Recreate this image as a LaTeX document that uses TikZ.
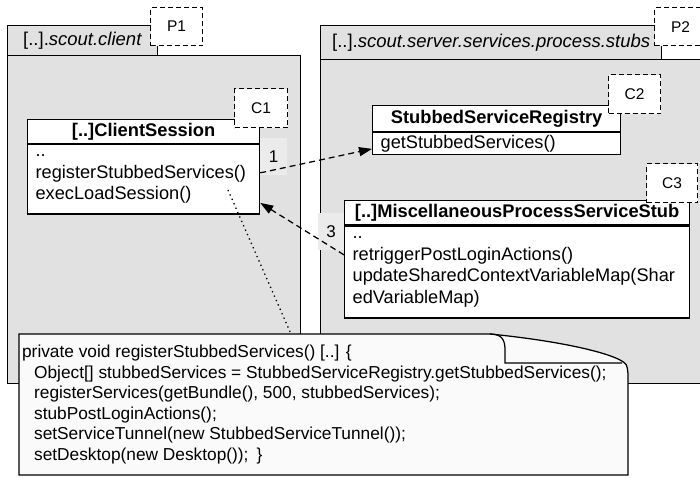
\documentclass[tikz,border=0pt]{standalone}
\usepackage{fontspec}
\setmainfont{Liberation Sans}
\usepackage{tikz}
\usetikzlibrary{positioning}
\usetikzlibrary{arrows.meta}
\usepackage{xcolor}
\definecolor{pkggray}{HTML}{E1E1E1}
\definecolor{lblgray}{HTML}{EBEBEB}
\definecolor{notegray}{HTML}{FAFAFA}

\begin{document}
\begin{tikzpicture}[x=1pt, y=-1pt, line width=1.25pt,
  pkg/.style = {draw, fill=pkggray, anchor=north west, inner sep=0pt, font=\fontsize{18.5}{22}\selectfont},
  tag/.style = {draw, dash pattern=on 5pt off 3pt, fill=white, minimum width=52pt, minimum height=38pt, anchor=north west, inner sep=0pt, font=\fontsize{15.5}{18}\selectfont},
  head/.style = {draw, fill=white, anchor=north west, inner sep=0pt, font=\fontsize{18.3}{21}\selectfont\bfseries},
  body/.style = {draw, fill=white, inner xsep=8pt, inner ysep=0pt, align=left, font=\fontsize{18.2}{21.5}\selectfont},
  lbl/.style = {fill=lblgray, minimum width=27pt, minimum height=37pt, inner sep=0pt, font=\fontsize{17}{20}\selectfont},
  code/.style = {inner xsep=2.5pt, align=left, font=\fontsize{17.3}{20.6}\selectfont},
  dep/.style = {dash pattern=on 6pt off 4pt, -{Triangle[length=13pt,width=9pt]}},
  call/.style = {line width=1.3pt, dash pattern=on 1.3pt off 3.5pt}]
\useasboundingbox (0,0) rectangle (700,478);
% packages
\node[pkg, minimum width=150pt, minimum height=30pt] (p1tab) at (7,25) {[..].\textit{scout.client}};
\node[pkg, minimum width=293pt, minimum height=328pt] (p1) at (7,55) {};
\node[pkg, minimum width=341pt, minimum height=34pt] (p2tab) at (320,25) {[..].\textit{scout.server.services.process.stubs}};
\node[pkg, minimum width=385pt, minimum height=324pt] (p2) at (320,59) {};
% classes
\node[head, minimum width=232pt, minimum height=24pt] (cs) at (27,119) {[..]ClientSession};
\node[body, text width=216pt, minimum height=69pt, below=0pt of cs] (csb) {..\\registerStubbedServices()\\execLoadSession()};
\node[head, minimum width=248pt, minimum height=26pt] (ssr) at (372,105) {StubbedServiceRegistry};
\node[body, text width=232pt, minimum height=22pt, below=0pt of ssr] (ssrb) {getStubbedServices()};
\node[head, minimum width=345pt, minimum height=24pt] (misc) at (344,200) {[..]MiscellaneousProcessServiceStub};
\node[body, text width=329pt, minimum height=92pt, below=0pt of misc] (miscb) {..\\retriggerPostLoginActions()\\updateSharedContextVariableMap(Shar\\edVariableMap)};
% tags
\node[tag] (P1) at (150,7) {P1};
\node[tag] (P2) at (654,7) {P2};
\node[tag, minimum width=53pt, minimum height=39pt] (C1) at (234,88) {C1};
\node[tag, minimum height=39pt] (C2) at (608,74) {C2};
\node[tag, minimum width=51pt, minimum height=39pt] (C3) at (646,163) {C3};
% dependencies
\node[lbl] (n1) at (273.5,156.5) {1};
\node[lbl, minimum width=26pt] (n3) at (331,231.5) {3};
\draw[dep] ([yshift=6.5pt]csb.east) -- ([yshift=-5pt]ssrb.west);
\draw[dep] ([yshift=17pt]miscb.west) -- ([yshift=-23.5pt]csb.east);
% code note
\coordinate (callsite) at (228,190);
\coordinate (notetop) at (291,334);
\draw[call] (callsite) -- (notetop);
\draw[fill=notegray] (19,334) -- (490,334) .. controls (560,341) and (605,352) .. (620,360) .. controls (627,364) .. (628,374) -- (628,475) -- (19,475) -- cycle;
\draw (490,334) .. controls (502,334) and (505,340) .. (505,350) -- (505,363) -- (622,363);
\node[code, anchor=west] (snippet) at (19,404.5) {private void registerStubbedServices() [..] \{\\
\hspace*{12pt}Object[] stubbedServices = StubbedServiceRegistry.getStubbedServices();\\
\hspace*{12pt}registerServices(getBundle(), 500, stubbedServices);\\
\hspace*{12pt}stubPostLoginActions();\\
\hspace*{12pt}setServiceTunnel(new StubbedServiceTunnel());\\
\hspace*{12pt}setDesktop(new Desktop());\hspace{8pt}\}};
\end{tikzpicture}
\end{document}
